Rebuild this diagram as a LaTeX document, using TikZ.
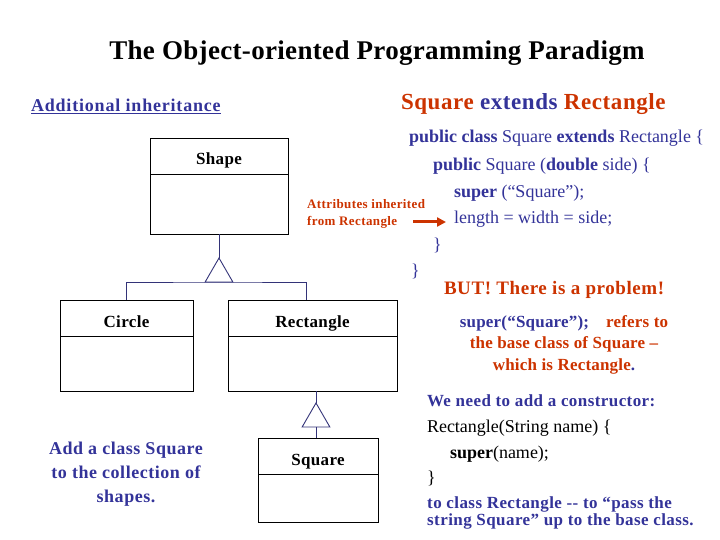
\documentclass[tikz,border=0pt]{standalone}
\usepackage{fontspec}
\setmainfont{Liberation Serif}
\usetikzlibrary{shapes.geometric, arrows.meta, positioning}
\definecolor{slideblue}{RGB}{51,51,153}
\definecolor{slidered}{RGB}{204,51,0}
\definecolor{linkblue}{RGB}{51,51,120}
% size, line skip and letter spacing of the bold slide texts
\newcommand{\slidefont}[3]{\fontsize{#1}{#2}\selectfont\bfseries\addfontfeatures{LetterSpace=#3}}

\tikzset{
  txt/.style={inner sep=0pt, outer sep=0pt, anchor=base west},
  code/.style={txt, text=slideblue, font=\fontsize{18}{22}\selectfont},
  umlhead/.style={draw=black, line width=0.9pt, inner sep=0pt, outer sep=0pt,
    minimum height=36pt, text height=18pt, text depth=0pt, anchor=north west,
    font=\slidefont{17}{20}{2}},
  umlbody/.style={draw=black, line width=0.9pt, inner sep=0pt, outer sep=0pt},
  inhtri/.style={draw=linkblue, line width=0.9pt, regular polygon, regular polygon sides=3,
    minimum size=32pt, inner sep=0pt, outer sep=0pt},
  link/.style={linkblue, line width=0.9pt},
  hint/.style={slidered, line width=3pt, -{Triangle[length=9pt, width=9pt]}}
}

\begin{document}
\begin{tikzpicture}[x=1pt, y=-1pt]
  \useasboundingbox (0,0) rectangle (720,540);
  % Title
  \node[inner sep=0pt, anchor=base, font=\slidefont{27}{30}{1.2}] (title) at (377,60)
    {The Object-oriented Programming Paradigm};
  \node[txt, text=slideblue, font=\slidefont{18}{21}{4.5}] (additional) at (31,112)
    {\underline{Additional inheritance}};
  \node[txt, text=slideblue, font=\slidefont{23}{26}{2.5}] (header) at (401,110)
    {\textcolor{slidered}{Square} extends \textcolor{slidered}{Rectangle}};
  % Class boxes
  \node[umlhead, minimum width=138pt] (shapeHead) at (150,138) {Shape};
  \node[umlbody, minimum width=138pt, minimum height=60pt, below=0pt of shapeHead] (shapeBody) {};
  \node[umlhead, minimum width=133pt] (circleHead) at (60,300) {Circle};
  \node[umlbody, minimum width=133pt, minimum height=55pt, below=0pt of circleHead] (circleBody) {};
  \node[umlhead, minimum width=169pt] (rectHead) at (228,300) {Rectangle};
  \node[umlbody, minimum width=169pt, minimum height=55pt, below=0pt of rectHead] (rectBody) {};
  \node[umlhead, minimum width=120pt] (squareHead) at (258,438) {Square};
  \node[umlbody, minimum width=120pt, minimum height=48pt, below=0pt of squareHead] (squareBody) {};
  % Inheritance
  \node[inhtri] (shapeTri) at (219,274) {};
  \node[inhtri] (rectTri) at (316,419) {};
  \draw[link] (shapeTri.corner 1 |- shapeBody.south) -- (shapeTri.corner 1);
  \draw[link] (circleHead.north) |- (shapeTri.side 2) -| ([xshift=-6pt]rectHead.north);
  \draw[link] (rectTri.corner 1 |- rectBody.south) -- (rectTri.corner 1);
  \draw[link] (rectTri.side 2) -- (rectTri.side 2 |- squareHead.north);
  \node[inner sep=0pt, anchor=north, align=center, text=slideblue,
    font=\slidefont{18}{24}{3}] (addNote) at (126,442)
    {Add a class Square\\to the collection of\\shapes.};
  % Square code
  \node[code] (code1) at (409,143) {\textbf{public class} Square \textbf{extends} Rectangle \{};
  \node[code] (code2) at (433,171) {\textbf{public} Square (\textbf{double} side) \{};
  \node[code] (code3) at (454,198) {\textbf{super} (“Square”);};
  \node[code] (code4) at (454,224) {length = width = side;};
  \node[code] (code5) at (433,250) {\}};
  \node[code] (code6) at (411,276) {\}};
  \node[inner sep=0pt, anchor=north west, align=left, text=slidered,
    font=\slidefont{13}{17}{3}] (attr) at (307,199)
    {Attributes inherited\\from Rectangle};
  \coordinate (attrTail) at (413,222);
  \draw[hint, shorten >=8pt] (attrTail) -- (attrTail -| code4.west);
  % The problem
  \node[txt, text=slidered, font=\slidefont{19}{22}{3}] (problem) at (444,294)
    {BUT! There is a problem!};
  \node[inner sep=0pt, anchor=north, align=center, text=slidered,
    font=\slidefont{17}{21.5}{1.2}] (refers) at (564,315)
    {\textcolor{slideblue}{super(“Square”);}\quad refers to\\the base class of Square --\\which is Rectangle\textcolor{slideblue}{.}};
  \node[txt, text=slideblue, font=\slidefont{17}{20}{2.5}] (need) at (427,406)
    {We need to add a constructor:};
  \node[txt, font=\fontsize{18}{22}\selectfont] (ctor1) at (427,432) {Rectangle(String name) \{};
  \node[txt, font=\fontsize{18}{22}\selectfont] (ctor2) at (450,458) {\textbf{super}(name);};
  \node[txt, font=\fontsize{18}{22}\selectfont] (ctor3) at (427,483) {\}};
  \node[inner sep=0pt, anchor=north west, align=left, text=slideblue,
    font=\slidefont{17}{15}{2.5}] (passNote) at (427,497)
    {to class Rectangle -{}- to “pass the\\string Square” up to the base class.};
\end{tikzpicture}
\end{document}
